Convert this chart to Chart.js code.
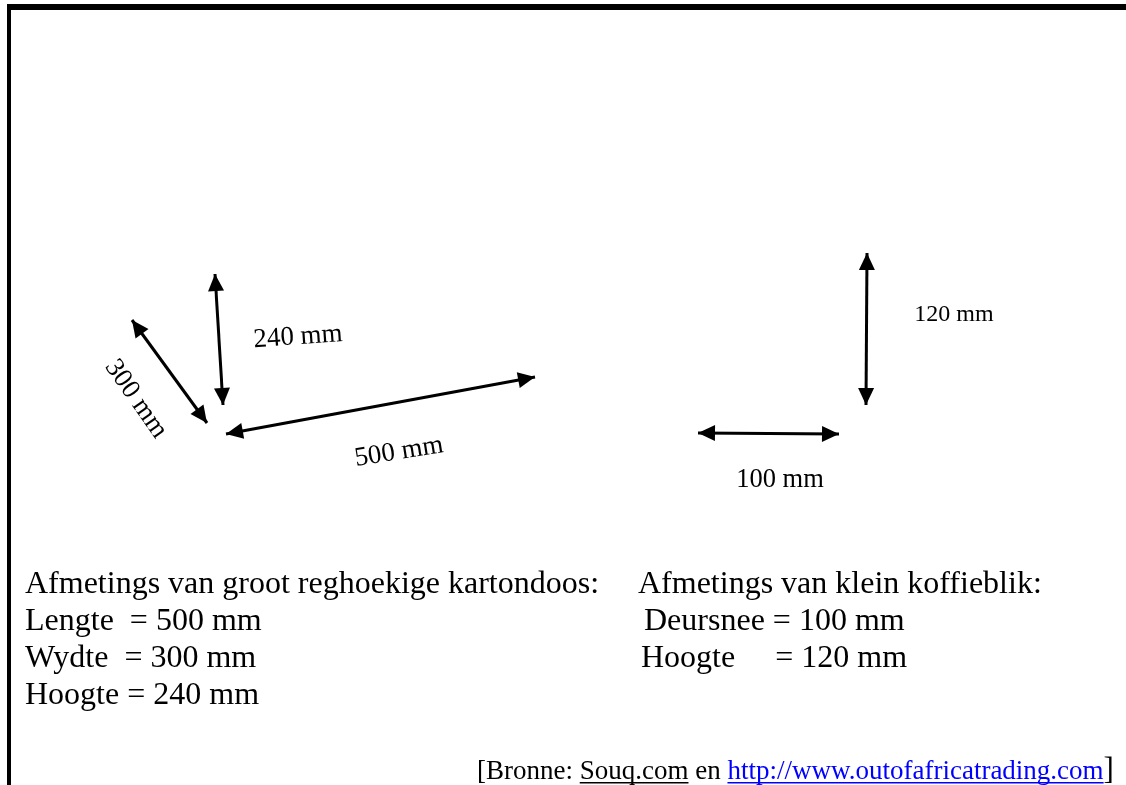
<!DOCTYPE html>
<html>
<head>
<meta charset="utf-8">
<script src="https://cdn.jsdelivr.net/npm/chart.js@4/dist/chart.umd.min.js"></script>
<style>
html,body{margin:0;padding:0;background:#fff;}
#wrap{width:1126px;height:785px;position:relative;}
</style>
</head>
<body>
<div id="wrap"><canvas id="c"></canvas></div>
<script>
// Dimension labels (values in mm)
const boxNames = ['Lengte', 'Wydte', 'Hoogte'];
const boxValues = [500, 300, 240];
const tinNames = ['Deursnee', 'Hoogte'];
const tinValues = [100, 120];

// Arrow endpoints in page coordinates (x, y)
const arrowLabels = ['500 mm', '300 mm', '240 mm', '100 mm', '120 mm'];
const arrowStartX = [226, 132, 215, 698, 867];
const arrowStartY = [434, 320, 274, 433, 253];
const arrowEndX   = [535, 207, 223, 839, 866];
const arrowEndY   = [377, 423, 405, 434, 405];

// Label anchor points and rotations
const labelX = [399, 136, 298, 780, 954];
const labelY = [452, 399, 337, 480, 315];
const labelAngle = [-9, 55, -4, 0, 0];
const labelSize = [27, 27, 27, 26.5, 24];

const datasets = arrowLabels.map((l, i) => ({
  label: l,
  data: [{x: arrowStartX[i], y: arrowStartY[i]}, {x: arrowEndX[i], y: arrowEndY[i]}],
  showLine: true,
  borderColor: '#000',
  borderWidth: 3,
  pointRadius: 0,
  fill: false
}));

const SERIF = '"Liberation Serif", "Times New Roman", serif';

const framePlugin = {
  id: 'frame',
  beforeDraw(chart) {
    const ctx = chart.ctx;
    ctx.save();
    ctx.fillStyle = '#fff';
    ctx.fillRect(0, 0, chart.width, chart.height);
    ctx.fillStyle = '#000';
    ctx.fillRect(7, 4, chart.width - 7, 6);
    ctx.fillRect(7, 4, 4, chart.height - 4);
    ctx.restore();
  }
};

const arrowPlugin = {
  id: 'arrows',
  afterDatasetsDraw(chart) {
    const ctx = chart.ctx;
    ctx.save();
    ctx.fillStyle = '#000';
    chart.data.datasets.forEach((ds, i) => {
      const pts = chart.getDatasetMeta(i).data;
      const a = pts[0], b = pts[1];
      const head = (tip, from) => {
        const ang = Math.atan2(tip.y - from.y, tip.x - from.x);
        const L = 17, W = 8;
        ctx.beginPath();
        ctx.moveTo(tip.x, tip.y);
        ctx.lineTo(tip.x - L * Math.cos(ang) + W * Math.sin(ang), tip.y - L * Math.sin(ang) - W * Math.cos(ang));
        ctx.lineTo(tip.x - L * Math.cos(ang) - W * Math.sin(ang), tip.y - L * Math.sin(ang) + W * Math.cos(ang));
        ctx.closePath();
        ctx.fill();
      };
      head(a, b);
      head(b, a);
    });
    ctx.restore();
  }
};

const textPlugin = {
  id: 'texts',
  afterDraw(chart) {
    const ctx = chart.ctx;
    const xs = chart.scales.x, ys = chart.scales.y;
    const px = v => xs.getPixelForValue(v), py = v => ys.getPixelForValue(v);
    ctx.save();
    ctx.fillStyle = '#000';
    // arrow labels
    arrowLabels.forEach((t, i) => {
      ctx.save();
      ctx.translate(px(labelX[i]), py(labelY[i]));
      ctx.rotate(labelAngle[i] * Math.PI / 180);
      ctx.font = labelSize[i] + 'px ' + SERIF;
      ctx.textAlign = 'center';
      ctx.textBaseline = 'middle';
      ctx.fillText(t, 0, 0);
      ctx.restore();
    });
    // left block
    ctx.font = '32px ' + SERIF;
    ctx.textAlign = 'left';
    ctx.textBaseline = 'alphabetic';
    ctx.fillText('Afmetings van groot reghoekige kartondoos:', 25, 593);
    const boxPad = ['Lengte  = ', 'Wydte  = ', 'Hoogte = '];
    boxNames.forEach((n, i) => {
      ctx.fillText(boxPad[i] + boxValues[i] + ' mm', 25, 630 + i * 37);
    });
    // right block
    ctx.fillText('Afmetings van klein koffieblik:', 638, 593);
    ctx.fillText(tinNames[0] + ' = ' + tinValues[0] + ' mm', 644, 630);
    ctx.fillText(tinNames[1] + '     = ' + tinValues[1] + ' mm', 641, 667);
    // source line
    ctx.font = '27px ' + SERIF;
    let x = 477;
    const y = 779;
    const seg = (t, color, underline) => {
      ctx.fillStyle = color;
      ctx.fillText(t, x, y);
      const w = ctx.measureText(t).width;
      if (underline) {
        ctx.fillRect(x, y + 3, w, 1.5);
      }
      x += w;
    };
    seg('[Bronne: ', '#000', false);
    seg('Souq.com', '#000', true);
    seg(' en ', '#000', false);
    seg('http://www.outofafricatrading.com', '#0000ff', true);
    ctx.font = '31px ' + SERIF;
    seg(']', '#000', false);
    ctx.restore();
  }
};

new Chart(document.getElementById('c'), {
  type: 'scatter',
  data: { datasets },
  options: {
    responsive: true,
    maintainAspectRatio: false,
    animation: false,
    layout: { padding: 0 },
    plugins: { legend: { display: false }, tooltip: { enabled: false } },
    scales: {
      x: { type: 'linear', min: 0, max: 1126, display: false },
      y: { type: 'linear', min: 0, max: 785, reverse: true, display: false }
    }
  },
  plugins: [framePlugin, arrowPlugin, textPlugin]
});
</script>
</body>
</html>
